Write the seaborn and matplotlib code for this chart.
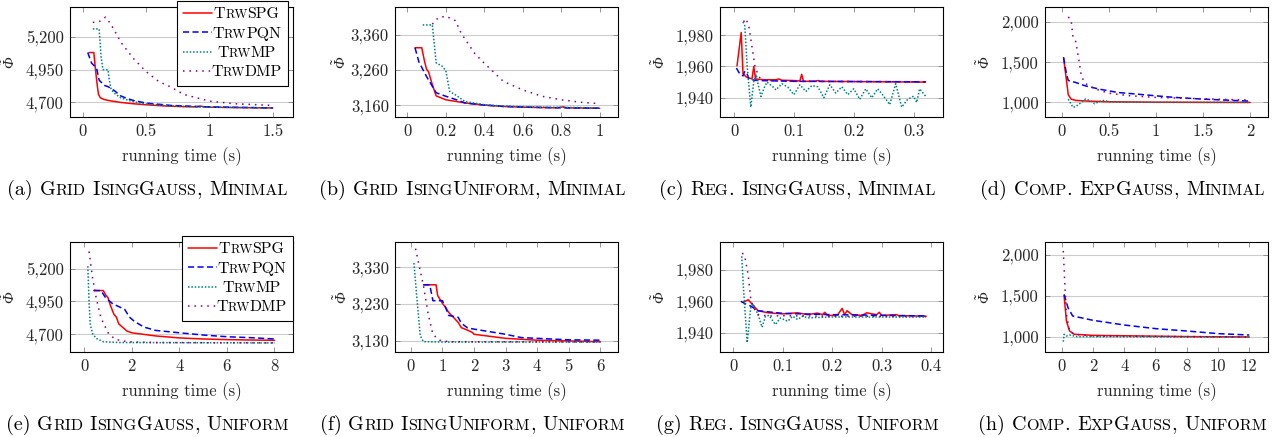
import matplotlib
matplotlib.use("Agg")
import matplotlib.pyplot as plt
from matplotlib.font_manager import FontProperties
from matplotlib.ticker import FixedLocator, FuncFormatter
import pandas as pd
import seaborn as sns

METHODS = ["TrwSPG", "TrwPQN", "TrwMP", "TrwDMP"]

# (a) Grid IsingGauss, Minimal
a_spg_x = [0.05, 0.088, 0.10, 0.115, 0.125, 0.14, 0.17, 0.22, 0.3, 0.4, 0.5, 0.6, 0.7, 0.8, 0.9, 0.93, 0.95, 1.0, 1.2, 1.5]
a_spg_y = [5080, 5080, 4960, 4830, 4760, 4735, 4722, 4712, 4700, 4690, 4682, 4676, 4671, 4668, 4666, 4672, 4668, 4664, 4661, 4658]
a_pqn_x = [0.04, 0.07, 0.11, 0.13, 0.17, 0.2, 0.25, 0.3, 0.35, 0.4, 0.5, 0.7, 1.0, 1.5]
a_pqn_y = [5080, 5000, 4960, 4870, 4830, 4820, 4790, 4750, 4730, 4715, 4695, 4677, 4666, 4658]
a_mp_x = [0.08, 0.13, 0.145, 0.16, 0.2, 0.21, 0.225, 0.25, 0.3, 0.4, 0.5, 0.7, 1.0, 1.5]
a_mp_y = [5260, 5260, 5050, 4950, 4950, 4870, 4800, 4770, 4735, 4705, 4688, 4672, 4664, 4658]
a_dmp_x = [0.08, 0.13, 0.18, 0.22, 0.25, 0.3, 0.4, 0.5, 0.6, 0.7, 0.8, 0.9, 1.0, 1.2, 1.5]
a_dmp_y = [5310, 5315, 5350, 5300, 5250, 5160, 5035, 4935, 4860, 4815, 4760, 4735, 4710, 4690, 4677]

# (b) Grid IsingUniform, Minimal
b_spg_x = [0.04, 0.075, 0.09, 0.1, 0.11, 0.13, 0.15, 0.2, 0.3, 0.4, 0.5, 0.6, 0.78, 0.81, 0.83, 1.0]
b_spg_y = [3323, 3323, 3283, 3262, 3255, 3218, 3186, 3175, 3166, 3160, 3156, 3154, 3152, 3155, 3152, 3151]
b_pqn_x = [0.04, 0.06, 0.1, 0.15, 0.2, 0.25, 0.3, 0.4, 0.5, 0.7, 1.0]
b_pqn_y = [3323, 3283, 3241, 3195, 3185, 3176, 3166, 3160, 3156, 3153, 3151]
b_mp_x = [0.08, 0.13, 0.15, 0.18, 0.2, 0.22, 0.25, 0.3, 0.4, 0.5, 0.7, 1.0]
b_mp_y = [3388, 3388, 3280, 3271, 3258, 3199, 3189, 3170, 3161, 3157, 3154, 3152]
b_dmp_x = [0.13, 0.16, 0.2, 0.25, 0.28, 0.35, 0.4, 0.5, 0.6, 0.7, 0.8, 0.9, 1.0]
b_dmp_y = [3390, 3408, 3413, 3400, 3364, 3307, 3279, 3227, 3203, 3185, 3175, 3168, 3164]

# (c) Reg. IsingGauss, Minimal
c_spg_x = [0.005, 0.012, 0.015, 0.02, 0.03, 0.033, 0.036, 0.05, 0.07, 0.075, 0.08, 0.1, 0.11, 0.113, 0.116, 0.135, 0.14, 0.145, 0.32]
c_spg_y = [1960.4, 1981.7, 1955.5, 1953.4, 1952, 1960, 1952, 1951.5, 1951.5, 1952, 1951.2, 1951, 1950.7, 1955, 1950.5, 1950.6, 1951, 1950.5, 1950]
c_pqn_x = [0.004, 0.01, 0.015, 0.018, 0.022, 0.025, 0.04, 0.1, 0.32]
c_pqn_y = [1959, 1955, 1954, 1957, 1955, 1951.7, 1951, 1950.5, 1950.2]
c_mp_x = [0.015, 0.018, 0.022, 0.028, 0.033, 0.037, 0.04, 0.045, 0.05, 0.055,
          0.065, 0.07, 0.08, 0.09, 0.1, 0.11, 0.12, 0.13, 0.14, 0.15,
          0.16, 0.17, 0.18, 0.19, 0.2, 0.21, 0.22, 0.23, 0.24, 0.25,
          0.26, 0.27, 0.28, 0.29, 0.3, 0.305, 0.31, 0.32]
c_mp_y = [1988.5, 1986, 1960, 1934, 1950.3, 1955, 1949, 1940.8, 1946, 1950,
          1947, 1945, 1949, 1946.7, 1942, 1948.3, 1944, 1947.8, 1947, 1940,
          1948.3, 1943, 1947, 1942, 1945.7, 1939, 1945.7, 1940, 1945.7, 1941,
          1935.6, 1949, 1934, 1939, 1941, 1937, 1945.7, 1941]
c_dmp_x = [0.016, 0.02, 0.025, 0.03, 0.035, 0.04, 0.045, 0.06, 0.1, 0.32]
c_dmp_y = [1988.5, 1990.6, 1985, 1972.6, 1960, 1955, 1951.4, 1951, 1950.5, 1950.2]

# (d) Comp. ExpGauss, Minimal
d_spg_x = [0.02, 0.05, 0.07, 0.1, 0.15, 0.3, 0.5, 1.0, 1.5, 2.0]
d_spg_y = [1557, 1280, 1095, 1041, 1025, 1015, 1008, 1003, 1001, 1000]
d_pqn_x = [0.02, 0.05, 0.07, 0.15, 0.25, 0.4, 0.6, 0.8, 1.0, 1.2, 1.5, 2.0]
d_pqn_y = [1557, 1360, 1272, 1247, 1206, 1165, 1123, 1103, 1082, 1062, 1041, 1016]
d_mp_x = [0.07, 0.1, 0.12, 0.15, 0.2, 0.25, 0.3, 0.35, 0.4, 0.45, 0.5, 0.6, 1.0, 2.0]
d_mp_y = [1041, 980, 938, 950, 992, 1041, 1025, 984, 1012, 1025, 1008, 1003, 1001, 1000]
d_dmp_x = [0.07, 0.1, 0.12, 0.15, 0.18, 0.21, 0.25, 0.3, 0.4, 0.5, 0.7, 1.0, 1.5, 2.0]
d_dmp_y = [2062, 2020, 1815, 1753, 1547, 1321, 1239, 1198, 1150, 1115, 1085, 1062, 1045, 1030]

# (e) Grid IsingGauss, Uniform
e_spg_x = [0.4, 0.8, 0.9, 1.0, 1.1, 1.25, 1.35, 1.45, 1.6, 1.8, 2.0, 2.5, 3, 4, 5, 6, 7, 8]
e_spg_y = [5033, 5033, 5000, 4978, 4920, 4851, 4831, 4780, 4756, 4725, 4712, 4700, 4688, 4673, 4665, 4660, 4657, 4655]
e_pqn_x = [0.4, 0.7, 0.9, 1.2, 1.5, 1.7, 1.9, 2.1, 2.5, 3, 4, 5, 6, 7, 8]
e_pqn_y = [5033, 5033, 4978, 4932, 4907, 4890, 4831, 4800, 4756, 4730, 4712, 4695, 4682, 4675, 4665]
e_mp_x = [0.15, 0.2, 0.25, 0.35, 0.5, 0.8, 1.5, 8]
e_mp_y = [5218, 4952, 4776, 4705, 4670, 4644, 4638, 4635]
e_dmp_x = [0.2, 0.35, 0.5, 0.7, 1.0, 1.3, 1.8, 3, 8]
e_dmp_y = [5330, 5128, 4978, 4826, 4712, 4662, 4644, 4638, 4635]

# (f) Grid IsingUniform, Uniform
f_spg_x = [0.4, 0.8, 0.85, 1.0, 1.1, 1.2, 1.35, 1.5, 1.6, 1.8, 1.95, 2.0, 3, 4, 5, 6]
f_spg_y = [3282, 3282, 3253, 3232, 3221, 3207, 3194, 3180, 3166, 3159, 3153, 3148, 3137, 3132, 3130, 3128]
f_pqn_x = [0.4, 0.6, 0.7, 1.0, 1.1, 1.2, 1.5, 1.6, 1.8, 2.0, 3, 3.5, 4, 5, 6]
f_pqn_y = [3282, 3282, 3239, 3239, 3221, 3199, 3194, 3178, 3165, 3162, 3148, 3139, 3137, 3133, 3132]
f_mp_x = [0.1, 0.2, 0.3, 0.4, 1.0, 6.0]
f_mp_y = [3341, 3239, 3144, 3128, 3127, 3127]
f_dmp_x = [0.15, 0.25, 0.4, 0.55, 0.7, 0.9, 1.2, 6.0]
f_dmp_y = [3380, 3339, 3280, 3203, 3148, 3132, 3128, 3127]

# (g) Reg. IsingGauss, Uniform
g_spg_x = [0.02, 0.03, 0.04, 0.05, 0.07, 0.1, 0.13, 0.15, 0.17, 0.18, 0.185, 0.19, 0.21, 0.22,
           0.225, 0.23, 0.24, 0.26, 0.27, 0.28, 0.29, 0.295, 0.3, 0.33, 0.335, 0.35, 0.39]
g_spg_y = [1959.4, 1961, 1957.5, 1954, 1952.7, 1952, 1952.7, 1951.5, 1952.5, 1951.5, 1953, 1951, 1951, 1955.5,
           1951.5, 1954, 1951.5, 1951, 1952.7, 1952, 1951.5, 1953, 1951, 1951.5, 1950.8, 1950.8, 1950.5]
g_pqn_x = [0.015, 0.025, 0.035, 0.05, 0.1, 0.2, 0.39]
g_pqn_y = [1960, 1958.3, 1957, 1954, 1952.3, 1951.5, 1950.7]
g_mp_x = [0.017, 0.02, 0.028, 0.035, 0.04, 0.05, 0.058, 0.065, 0.072, 0.085, 0.095, 0.11, 0.12, 0.13, 0.14, 0.15, 0.2, 0.39]
g_mp_y = [1988.7, 1970.6, 1933.6, 1955.8, 1958.3, 1951.5, 1943.5, 1950.5, 1951, 1945.2, 1949.4, 1947.3, 1950.5, 1948.4, 1950.5, 1949.5, 1950, 1950]
g_dmp_x = [0.018, 0.023, 0.03, 0.035, 0.04, 0.05, 0.07, 0.1, 0.2, 0.39]
g_dmp_y = [1990.8, 1988.7, 1977, 1962, 1956.3, 1951.6, 1950.6, 1950.8, 1950.5, 1950.3]

# (h) Comp. ExpGauss, Uniform
h_spg_x = [0.15, 0.3, 0.5, 0.8, 2, 4, 6, 8, 12]
h_spg_y = [1504, 1195, 1073, 1033, 1020, 1015, 1010, 1005, 1000]
h_pqn_x = [0.15, 0.4, 0.7, 1.5, 2, 3, 4, 6, 8, 10, 12]
h_pqn_y = [1520, 1358, 1256, 1224, 1203, 1175, 1146, 1102, 1073, 1041, 1024]
h_mp_x = [0.1, 0.15, 0.3, 0.5, 1.0, 12]
h_mp_y = [943, 1033, 1012, 1024, 1004, 1000]
h_dmp_x = [0.1, 0.2, 0.3, 0.5, 0.8, 2, 12]
h_dmp_y = [2049, 1642, 1276, 1073, 1033, 1012, 1000]

TITLES = ["Grid IsingGauss, Minimal", "Grid IsingUniform, Minimal",
          "Reg. IsingGauss, Minimal", "Comp. ExpGauss, Minimal",
          "Grid IsingGauss, Uniform", "Grid IsingUniform, Uniform",
          "Reg. IsingGauss, Uniform", "Comp. ExpGauss, Uniform"]
LETTERS = list("abcdefgh")

XTICKS = [[0, 0.5, 1, 1.5], [0, 0.2, 0.4, 0.6, 0.8, 1], [0, 0.1, 0.2, 0.3], [0, 0.5, 1, 1.5, 2],
          [0, 2, 4, 6, 8], [0, 1, 2, 3, 4, 5, 6], [0, 0.1, 0.2, 0.3, 0.4], [0, 2, 4, 6, 8, 10, 12]]
YTICKS = [[4700, 4950, 5200], [3160, 3260, 3360], [1940, 1960, 1980], [1000, 1500, 2000],
          [4700, 4950, 5200], [3130, 3230, 3330], [1940, 1960, 1980], [1000, 1500, 2000]]

SERIES = [
    [(a_spg_x, a_spg_y), (a_pqn_x, a_pqn_y), (a_mp_x, a_mp_y), (a_dmp_x, a_dmp_y)],
    [(b_spg_x, b_spg_y), (b_pqn_x, b_pqn_y), (b_mp_x, b_mp_y), (b_dmp_x, b_dmp_y)],
    [(c_spg_x, c_spg_y), (c_pqn_x, c_pqn_y), (c_mp_x, c_mp_y), (c_dmp_x, c_dmp_y)],
    [(d_spg_x, d_spg_y), (d_pqn_x, d_pqn_y), (d_mp_x, d_mp_y), (d_dmp_x, d_dmp_y)],
    [(e_spg_x, e_spg_y), (e_pqn_x, e_pqn_y), (e_mp_x, e_mp_y), (e_dmp_x, e_dmp_y)],
    [(f_spg_x, f_spg_y), (f_pqn_x, f_pqn_y), (f_mp_x, f_mp_y), (f_dmp_x, f_dmp_y)],
    [(g_spg_x, g_spg_y), (g_pqn_x, g_pqn_y), (g_mp_x, g_mp_y), (g_dmp_x, g_dmp_y)],
    [(h_spg_x, h_spg_y), (h_pqn_x, h_pqn_y), (h_mp_x, h_mp_y), (h_dmp_x, h_dmp_y)],
]

# layout (axis ranges like pgfplots' enlarged limits)
XLIM = [(-0.1, 1.66), (-0.064, 1.095), (-0.0234, 0.349), (-0.177, 2.19),
        (-0.6, 8.78), (-0.5, 6.56), (-0.027, 0.424), (-1.07, 13.2)]
YLIM = [(4589, 5427), (3126, 3439), (1927.7, 1998), (819, 2185),
        (4566, 5402), (3100, 3398), (1927.7, 1997.8), (817, 2158)]
YLAB_X = [-0.235, -0.205, -0.235, -0.232, -0.235, -0.2, -0.235, -0.232]

COLORS = {"TrwSPG": "#ff0000", "TrwPQN": "#0000ff", "TrwMP": "#008080", "TrwDMP": "#800080"}
DASHES = {"TrwSPG": "", "TrwPQN": (4.0, 2.2), "TrwMP": (1, 1.2), "TrwDMP": (1, 3.2)}

SERIF = ["cmr10", "DejaVu Serif"]
FS = 12
LEG_FS = 11.4
CAP_FS = 14.5
SC = 0.8

sns.set_theme(style="ticks")
plt.rcParams.update({
    "font.family": SERIF,
    # only the y label uses mathtext: an italic upright-less Phi with a tilde
    "mathtext.fontset": "custom",
    "mathtext.rm": "Liberation Serif:italic",
    "mathtext.it": "Liberation Serif:italic",
    "axes.unicode_minus": False,
    "axes.linewidth": 0.8,
    "axes.edgecolor": "black",
})

W_PX, H_PX = 1276, 437
fig = plt.figure(figsize=(W_PX / 100, H_PX / 100), dpi=100)

col_left = [70, 395, 720, 1045]
ax_w = 223
row_top = [7, 242]
ax_h = 110


def sc_runs(text, size):
    runs = []
    for ch in text:
        if ch == " ":
            runs.append((" ", size))
            continue
        s, sz = (ch.upper(), size * SC) if ch.islower() else (ch, size)
        if runs and runs[-1][0] != " " and runs[-1][1] == sz:
            runs[-1] = (runs[-1][0] + s, sz)
        else:
            runs.append((s, sz))
    return runs


def advance(renderer, s, fp):
    # width including side bearings: bracket the string with bars
    w1 = renderer.get_text_width_height_descent("|" + s + "|", fp, False)[0]
    w0 = renderer.get_text_width_height_descent("||", fp, False)[0]
    return w1 - w0


def put_runs(renderer, runs, x, y):
    # draw runs of text centred on x, baseline at y (display pixels)
    widths = [advance(renderer, s, FontProperties(family=SERIF, size=sz)) for s, sz in runs]
    x -= sum(widths) / 2
    for (s, sz), w in zip(runs, widths):
        if s != " ":
            fig.text(x / W_PX, y / H_PX, s, fontsize=sz, family=SERIF,
                     ha="left", va="baseline", color="black")
        x += w


axes = []
legends = []
for i in range(8):
    r, c = divmod(i, 4)
    left = col_left[c] / W_PX
    bottom = 1 - (row_top[r] + ax_h) / H_PX
    ax = fig.add_axes([left, bottom, ax_w / W_PX, ax_h / H_PX])

    frames = []
    for m, (xs, ys) in zip(METHODS, SERIES[i]):
        frames.append(pd.DataFrame({"time": xs, "phi": ys, "method": m}))
    df = pd.concat(frames, ignore_index=True)

    sns.lineplot(data=df, x="time", y="phi", hue="method", style="method",
                 hue_order=METHODS, style_order=METHODS, palette=COLORS,
                 dashes=DASHES, estimator=None, sort=False, linewidth=1.1,
                 legend=False, ax=ax)

    ax.set_xlim(*XLIM[i])
    ax.set_ylim(*YLIM[i])
    ax.xaxis.set_major_locator(FixedLocator(XTICKS[i]))
    ax.yaxis.set_major_locator(FixedLocator(YTICKS[i]))
    ax.xaxis.set_major_formatter(FuncFormatter(lambda v, p: f"{v:g}"))
    ax.yaxis.set_major_formatter(FuncFormatter(lambda v, p: f"{v:,.0f}"))
    ax.tick_params(direction="in", top=True, right=True, length=3.5, width=0.6,
                   color="#888888", labelsize=FS, pad=4.5)
    ax.set_axisbelow(True)
    ax.yaxis.grid(True, color="#cccccc", linewidth=0.8)
    ax.xaxis.grid(False)
    for sp in ax.spines.values():
        sp.set_linewidth(0.8)

    ax.set_xlabel("running time (s)", fontsize=FS, va="baseline")
    ax.xaxis.set_label_coords(0.5, -44 / ax_h)
    ax.set_ylabel(r"$\tilde{\Phi}$", fontsize=11)
    ax.yaxis.set_label_coords(YLAB_X[i], 0.5)

    if c == 0:
        anchor = (0.978, 1.055) if r == 0 else (1.0, 1.055)
        # label text is drawn afterwards in small caps, the pad keeps its room
        leg = ax.legend(handles=ax.lines[:4], labels=["", "", "", ""],
                        loc="upper right", bbox_to_anchor=anchor, borderaxespad=0,
                        fontsize=LEG_FS, frameon=True, fancybox=False, framealpha=1,
                        edgecolor="black", handlelength=1.8, handletextpad=4.4,
                        labelspacing=0.33, borderpad=0.42)
        leg.get_frame().set_linewidth(0.8)
        legends.append(leg)
    axes.append(ax)

fig.canvas.draw()
renderer = fig.canvas.get_renderer()
em = LEG_FS * 100 / 72.0

# legend labels in small caps, centred in the text column
for leg in legends:
    frame = leg.get_frame().get_window_extent(renderer)
    for m, ln in zip(METHODS, leg.get_lines()):
        xy = ln.get_transform().transform(ln.get_xydata())
        x_end = xy[:, 0].max()
        y_mid = xy[:, 1].mean()
        xc = (x_end + frame.x1 - 0.42 * em) / 2
        put_runs(renderer, sc_runs(m, LEG_FS), xc, y_mid - 0.33 * em)

# sub-captions
cap_base = [H_PX - 195, H_PX - 430]
for i, ax in enumerate(axes):
    r = i // 4
    bb = ax.get_window_extent(renderer)
    xc = (bb.x0 + bb.x1) / 2 - 34
    runs = [(f"({LETTERS[i]})", CAP_FS), (" ", CAP_FS)] + sc_runs(TITLES[i], CAP_FS)
    put_runs(renderer, runs, xc, cap_base[r])

fig.savefig("out.png", dpi=100)
